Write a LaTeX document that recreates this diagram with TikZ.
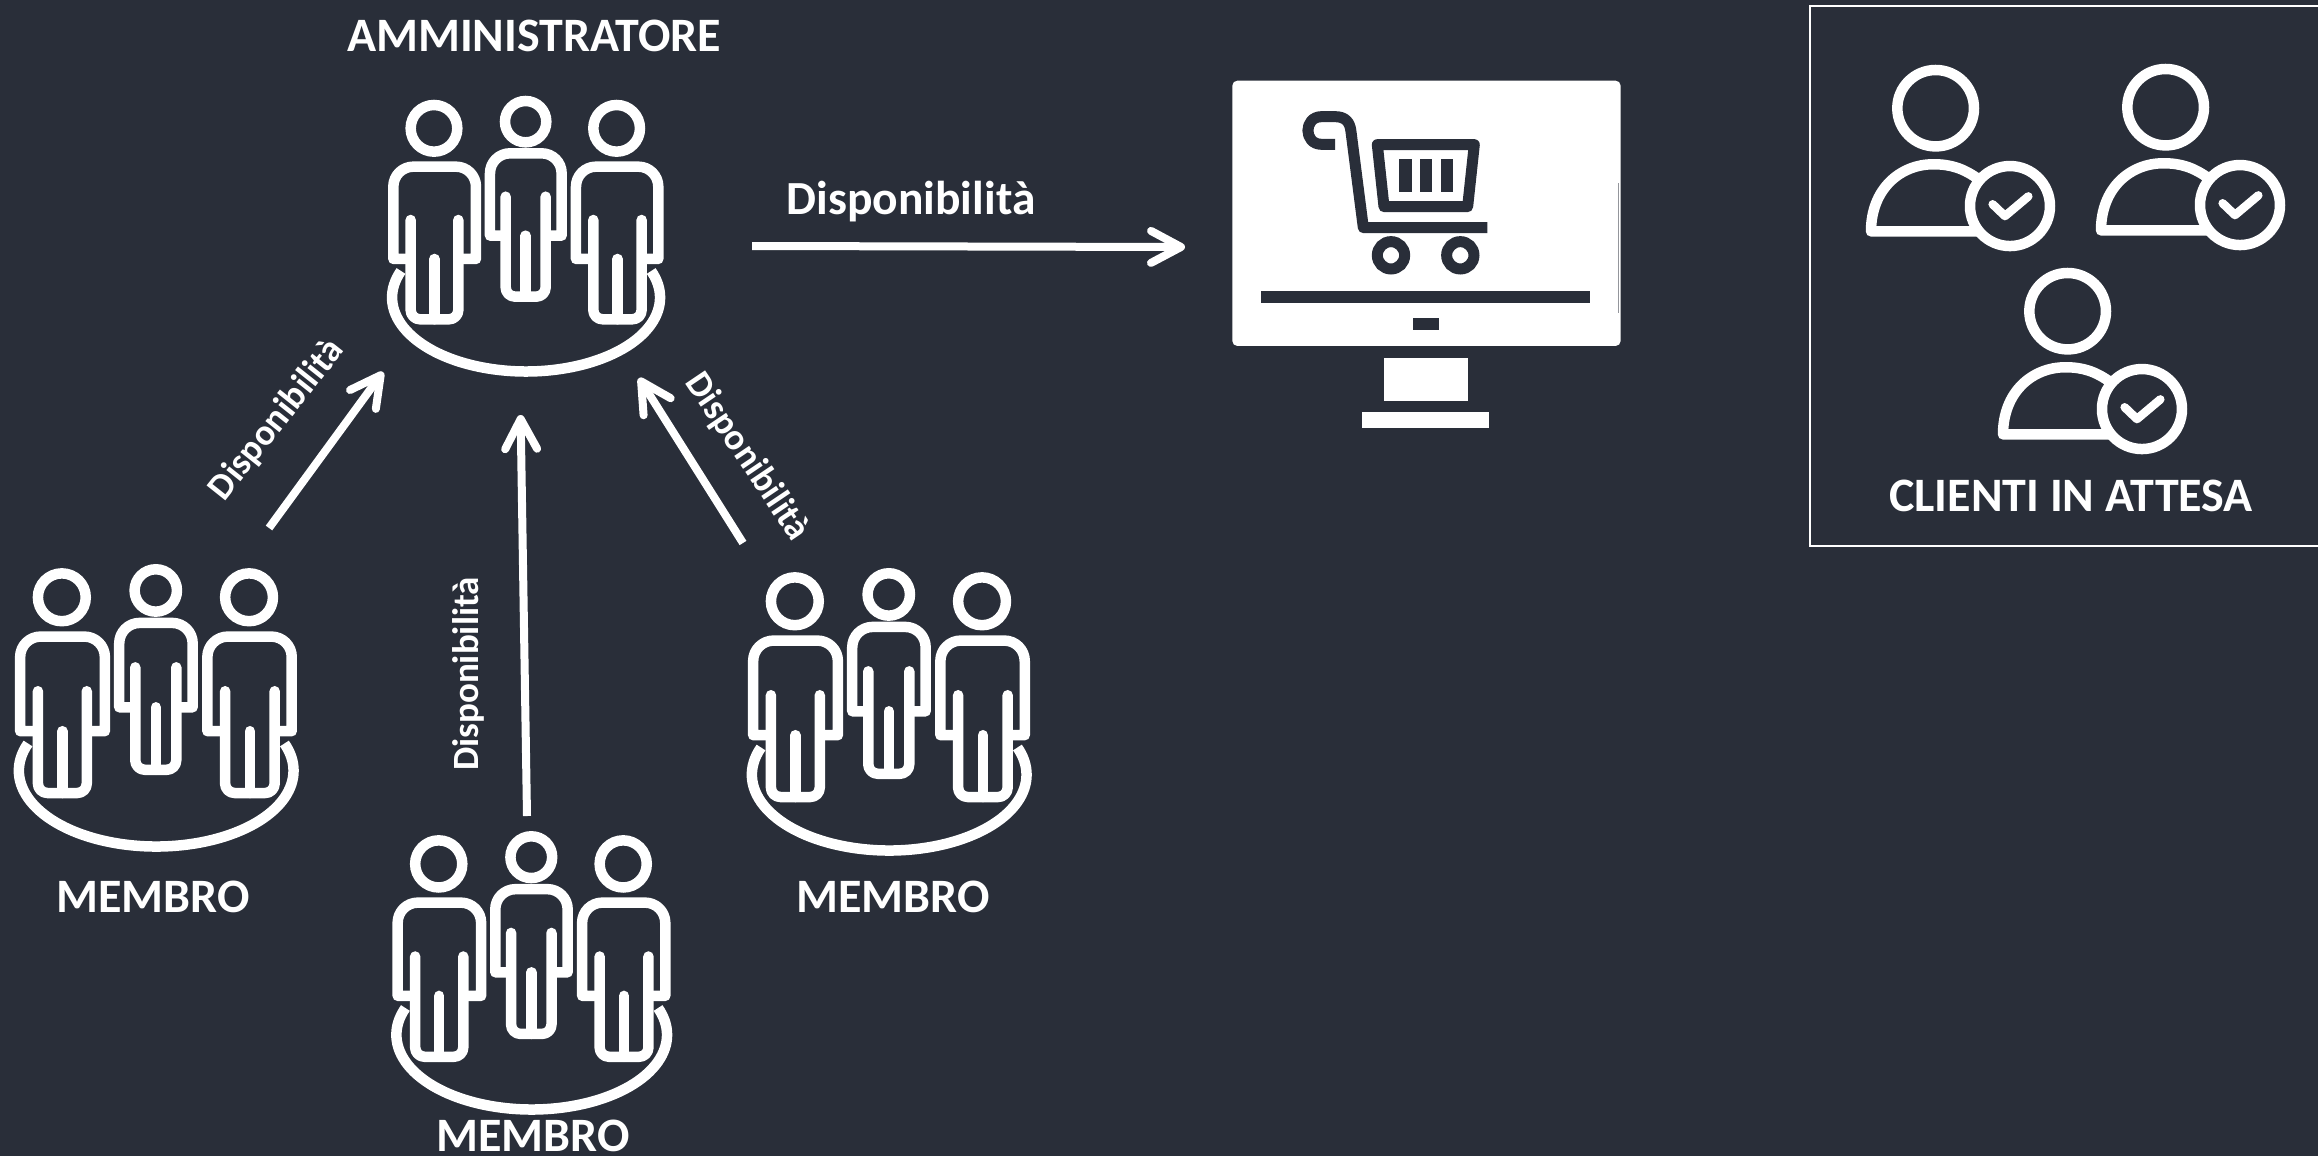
\documentclass[tikz,border=0pt]{standalone}
\usepackage{fontspec}
\setmainfont{Carlito}
\usetikzlibrary{arrows.meta}
\definecolor{bg}{HTML}{292E39}
\tikzset{
  lbl/.style={text=white,font=\bfseries\fontsize{48}{48}\selectfont,inner sep=0pt},
  lblsm/.style={text=white,font=\bfseries\fontsize{47.5}{48}\selectfont,inner sep=0pt},
  lblrot/.style={text=white,font=\bfseries\fontsize{37}{37}\selectfont,inner sep=0pt},
  conn/.style={draw=white,line width=8pt,-{Straight Barb[length=30pt,width=32pt,line width=8pt,round]}},
  inkline/.style={draw=white,line width=10.5pt},
}
% one standing figure, in crop units: #1 head x, #2 head y, #3 left, #4 right, #5 leg L, #6 leg R, #7 shoulder y, #8 arm y, #9 leg bottom
\newcommand{\figperson}[9]{%
  \draw[inkline] (#1,#2) circle[radius=\hr];
  \draw[inkline,line join=round,line cap=round]
    (#5,#8-117) -- (#5,#9-28) to[out=-90,in=180] (#5+28,#9) -- (#6-28,#9) to[out=0,in=-90] (#6,#9-28) -- (#6,#8-117);
  \draw[inkline,line join=round]
    (#5,#8) -- (#3,#8) -- (#3,#7+60) to[out=90,in=180] (#3+60,#7) -- (#4-60,#7) to[out=0,in=90] (#4,#7+60) -- (#4,#8) -- (#6,#8);
  \draw[inkline,line cap=round] ({(#5+#6)/2},#9) -- ({(#5+#6)/2},#8);
}
\newcommand{\groupicon}[4]{% name, x, y, scale
  \begin{scope}[shift={(#2,#3)},x=#4*0.3333pt,y=-#4*0.3333pt]
    \draw[inkline] (123,603) arc[start angle=201,end angle=-21,x radius=402,y radius=222];
    \def\hr{70}\figperson{222}{175}{100}{348}{152}{295}{290}{567}{748}
    \def\hr{62}\figperson{497}{155}{390}{605}{437}{557}{250}{497}{680}
    \def\hr{70}\figperson{770}{175}{648}{895}{700}{845}{290}{567}{748}
    \node[inner sep=0pt] (#1) at (497,480) {};
  \end{scope}
}
\newcommand{\clienticon}[3]{% name, x, y
  \begin{scope}[shift={(#2,#3)},x=0.3333pt,y=-0.3571pt]
    \draw[inkline] (377,303) circle[x radius=115,y radius=107];
    \draw[inkline,line join=round]
      (510,648) -- (183,648) .. controls (183,530) and (270,460) .. (370,460) .. controls (420,460) and (460,470) .. (510,505);
    \draw[inkline,fill=bg] (600,577) circle[x radius=120,y radius=112];
    \draw[draw=white,line width=8.5pt,line cap=round,line join=round] (548,572) -- (585,605) -- (655,550);
    \node[inner sep=0pt] (#1) at (430,450) {};
  \end{scope}
}
\begin{document}
\begin{tikzpicture}[x=1pt,y=-1pt]
\useasboundingbox (0,0) rectangle (2318,1156);
\fill[bg] (0,0) rectangle (2318,1156);

% groups
\groupicon{admin}{360}{70}{1}
\groupicon{mema}{-14}{537.5}{1.025}
\groupicon{memb}{364}{805}{1.01}
\groupicon{memc}{719}{541.5}{1.025}

% labels
\node[lbl] (tadmin) at (534,36) {AMMINISTRATORE};
\node[lbl] (tma) at (153,897) {MEMBRO};
\node[lbl] (tmc) at (893,897) {MEMBRO};
\node[lbl] (tmb) at (533,1136) {MEMBRO};

% connectors
\coordinate (aR) at (752,246);
\coordinate (aL) at (383,372);
\coordinate (aB) at (520.6,415);
\coordinate (aC) at (639,378);
\coordinate (scr) at (1185,247);
\coordinate (maT) at (269,528);
\coordinate (mbT) at (527,816);
\coordinate (mcT) at (743,543);
\draw[conn] (aR) -- (scr);
\draw[conn] (maT) -- (aL);
\draw[conn] (mbT) -- (aB);
\draw[conn] (mcT) -- (aC);
\node[lblsm] (d0) at (911,202) {Disponibilità};
\node[lblrot,rotate=51.5] (d1) at (277,420) {Disponibilità};
\node[lblrot,rotate=90] (d2) at (468,674) {Disponibilità};
\node[lblrot,rotate=-56] (d3) at (747,457) {Disponibilità};

% monitor
\begin{scope}[shift={(1200,60)},x=0.3333pt,y=-0.3333pt]
  \fill[white,rounded corners=5pt] (97,62) rectangle (1262,858);
  \fill[white] (553,893) rectangle (805,1023);
  \fill[white] (487,1057) rectangle (866,1105);
  \fill[bg] (183,693) rectangle (1171,728);
  \fill[bg] (640,775) rectangle (718,810);
  \draw[bg!50!white,line width=1pt] (1255,370) -- (1255,760);
  \draw[bg,line width=11pt,line join=round]
    (405,253) -- (365,253) .. controls (310,253) and (310,170) .. (365,170) -- (405,170) .. controls (435,170) and (450,185) .. (453,215) -- (490,503) -- (862,503);
  \draw[bg,line width=11pt,line join=round] (532,254) -- (823,254) -- (803,440) -- (552,440) -- cycle;
  \fill[bg] (597,297) rectangle (635,397);
  \fill[bg] (660,297) rectangle (697,397);
  \fill[bg] (722,297) rectangle (759,397);
  \draw[bg,line width=11pt] (573,586) circle[radius=41];
  \draw[bg,line width=11pt] (781,586) circle[radius=41];
  \node[inner sep=0pt] (monitor) at (680,460) {};
\end{scope}

% clients box
\draw[white,line width=2.5pt] (2330,6) -- (1810,6) -- (1810,546) -- (2330,546);
\clienticon{c1}{1810}{0}
\clienticon{c2}{2040}{-1}
\clienticon{c3}{1942}{203}
\node[lbl] (tcl) at (2071,496) {CLIENTI IN ATTESA};
\end{tikzpicture}
\end{document}
